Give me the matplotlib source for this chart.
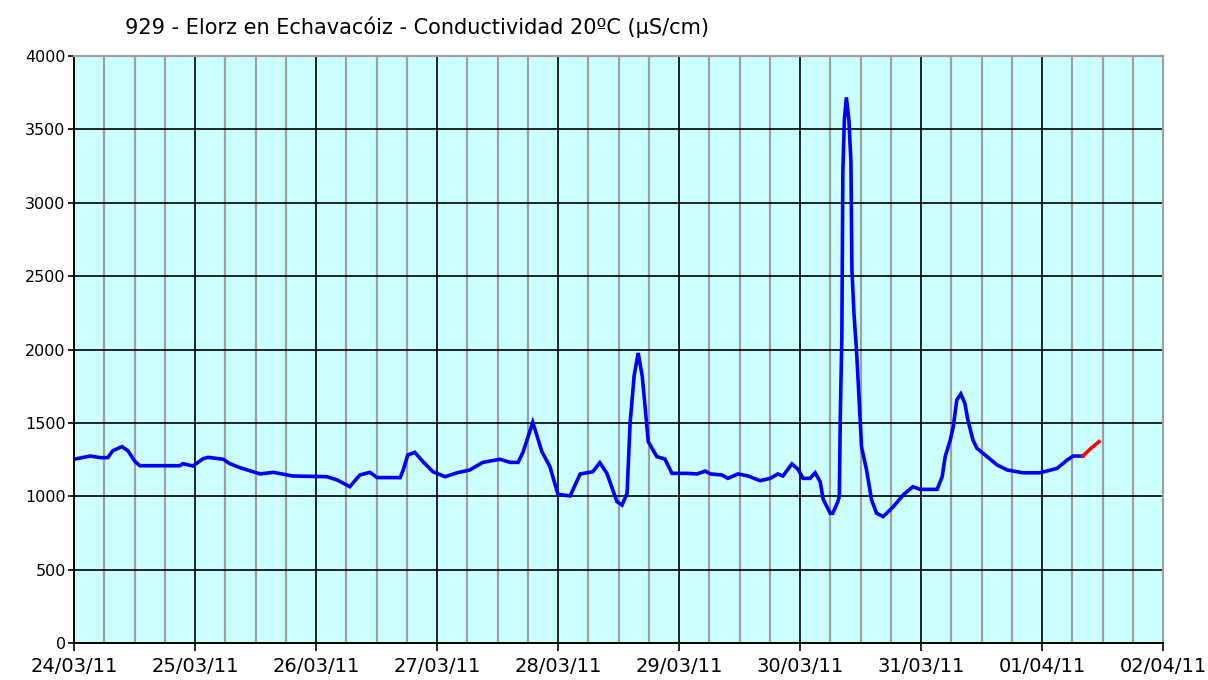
import numpy as np
import pandas as pd
import matplotlib.pyplot as plt
import matplotlib.dates as mdates

# hours since 24/03/2011 00:00 and conductivity (uS/cm)
hours = [0.0, 3.2, 5.2, 6.7, 7.7, 9.5, 10.7, 12.1, 13.1, 21.0, 21.6, 23.6,
         25.6, 26.6, 29.6, 30.9, 32.9, 36.9, 39.5, 43.4, 50.2, 52.2, 54.7,
         56.7, 58.7, 60.1, 64.7, 65.3, 66.2, 67.6, 69.2, 71.2, 73.6, 76.0,
         78.5, 81.1, 84.5, 86.5, 88.1, 89.1, 91.0, 92.8, 94.4, 96.0, 98.4,
         100.4, 102.9, 104.3, 105.7, 107.7, 108.7, 109.7, 110.3, 111.1,
         111.9, 112.7, 113.3, 113.9, 115.6, 117.2, 118.6, 121.6, 123.6,
         125.2, 126.2, 128.5, 129.7, 131.7, 133.7, 136.1, 138.1, 139.6,
         140.6, 142.4, 143.6, 144.6, 146.0, 147.0, 148.0, 148.6, 150.0,
         150.5, 151.5, 151.8, 152.0, 152.3, 152.5, 152.8, 153.2, 153.7,
         154.1, 154.3, 154.7, 155.2, 155.7, 156.2, 157.2, 158.2, 159.2,
         160.5, 162.5, 164.5, 166.4, 167.8, 171.2, 172.2, 172.8, 173.8,
         174.4, 175.1, 175.9, 176.7, 177.3, 178.3, 179.1, 181.1, 183.1,
         185.1, 188.2, 191.6, 195.0, 197.0, 198.2, 200.1]
values = [1252, 1274, 1263, 1263, 1310, 1338, 1310, 1236, 1208, 1208, 1222,
          1206, 1256, 1265, 1252, 1222, 1195, 1152, 1163, 1138, 1133, 1111,
          1065, 1145, 1163, 1127, 1127, 1179, 1281, 1299, 1236, 1167, 1133,
          1160, 1179, 1231, 1252, 1231, 1231, 1304, 1504, 1304, 1201, 1013,
          1002, 1152, 1167, 1229, 1156, 963, 940, 1020, 1499, 1820, 1976,
          1820, 1600, 1372, 1270, 1254, 1156, 1156, 1152, 1172, 1152, 1145,
          1122, 1152, 1138, 1106, 1122, 1152, 1138, 1220, 1184, 1122, 1122,
          1160, 1099, 979, 884, 884, 963, 1000, 1560, 2087, 3212, 3564, 3718,
          3564, 3280, 2542, 2247, 1997, 1678, 1338, 1179, 974, 884, 861, 929,
          1010, 1065, 1047, 1047, 1133, 1270, 1383, 1474, 1656, 1697, 1633,
          1520, 1383, 1327, 1270, 1213, 1179, 1160, 1160, 1190, 1247, 1274,
          1274]

# provisional (red) tail
red_hours = [200.1, 201.5, 203.3]
red_values = [1274, 1320, 1372]

title = "929 - Elorz en Echavacóiz - Conductividad 20ºC (µS/cm)"
start = pd.Timestamp("2011-03-24")
end = pd.Timestamp("2011-04-02")

t = start + pd.to_timedelta(hours, unit="h")
t_red = start + pd.to_timedelta(red_hours, unit="h")

fig = plt.figure(figsize=(12.08, 6.8), dpi=100, facecolor="white")
ax = fig.add_axes([74 / 1208, 37 / 680, 1089 / 1208, 587 / 680])
ax.set_facecolor("#CCFFFF")

ax.plot(t, values, color="#0000FF", lw=2.6, solid_joinstyle="miter")
ax.plot(t_red, red_values, color="#FF0000", lw=2.6)

ax.set_xlim(start, end)
ax.set_ylim(0, 4000)
ax.set_yticks(np.arange(0, 4001, 500))

ax.xaxis.set_major_locator(mdates.DayLocator())
ax.xaxis.set_major_formatter(mdates.DateFormatter("%d/%m/%y"))
ax.xaxis.set_minor_locator(mdates.HourLocator(byhour=[6, 12, 18]))

ax.grid(which="minor", axis="x", color="#A0A0A0", lw=1.6)
ax.grid(which="major", axis="both", color="black", lw=1.2)
ax.set_axisbelow(True)

ax.tick_params(axis="x", which="major", length=6, width=1.2, labelsize=14,
               pad=4, colors="black")
ax.tick_params(axis="x", which="minor", length=0)
ax.tick_params(axis="y", length=4, width=1.2, labelsize=11.5, pad=2)

for side in ("top", "right"):
    ax.spines[side].set_color("#A0A0A0")
    ax.spines[side].set_linewidth(1.6)
for side in ("left", "bottom"):
    ax.spines[side].set_color("black")
    ax.spines[side].set_linewidth(1.4)

fig.text(125 / 1208, 1 - 27 / 680, title, fontsize=15, ha="left",
         va="center")

plt.savefig("out.png", dpi=100, facecolor="white")
plt.close()
